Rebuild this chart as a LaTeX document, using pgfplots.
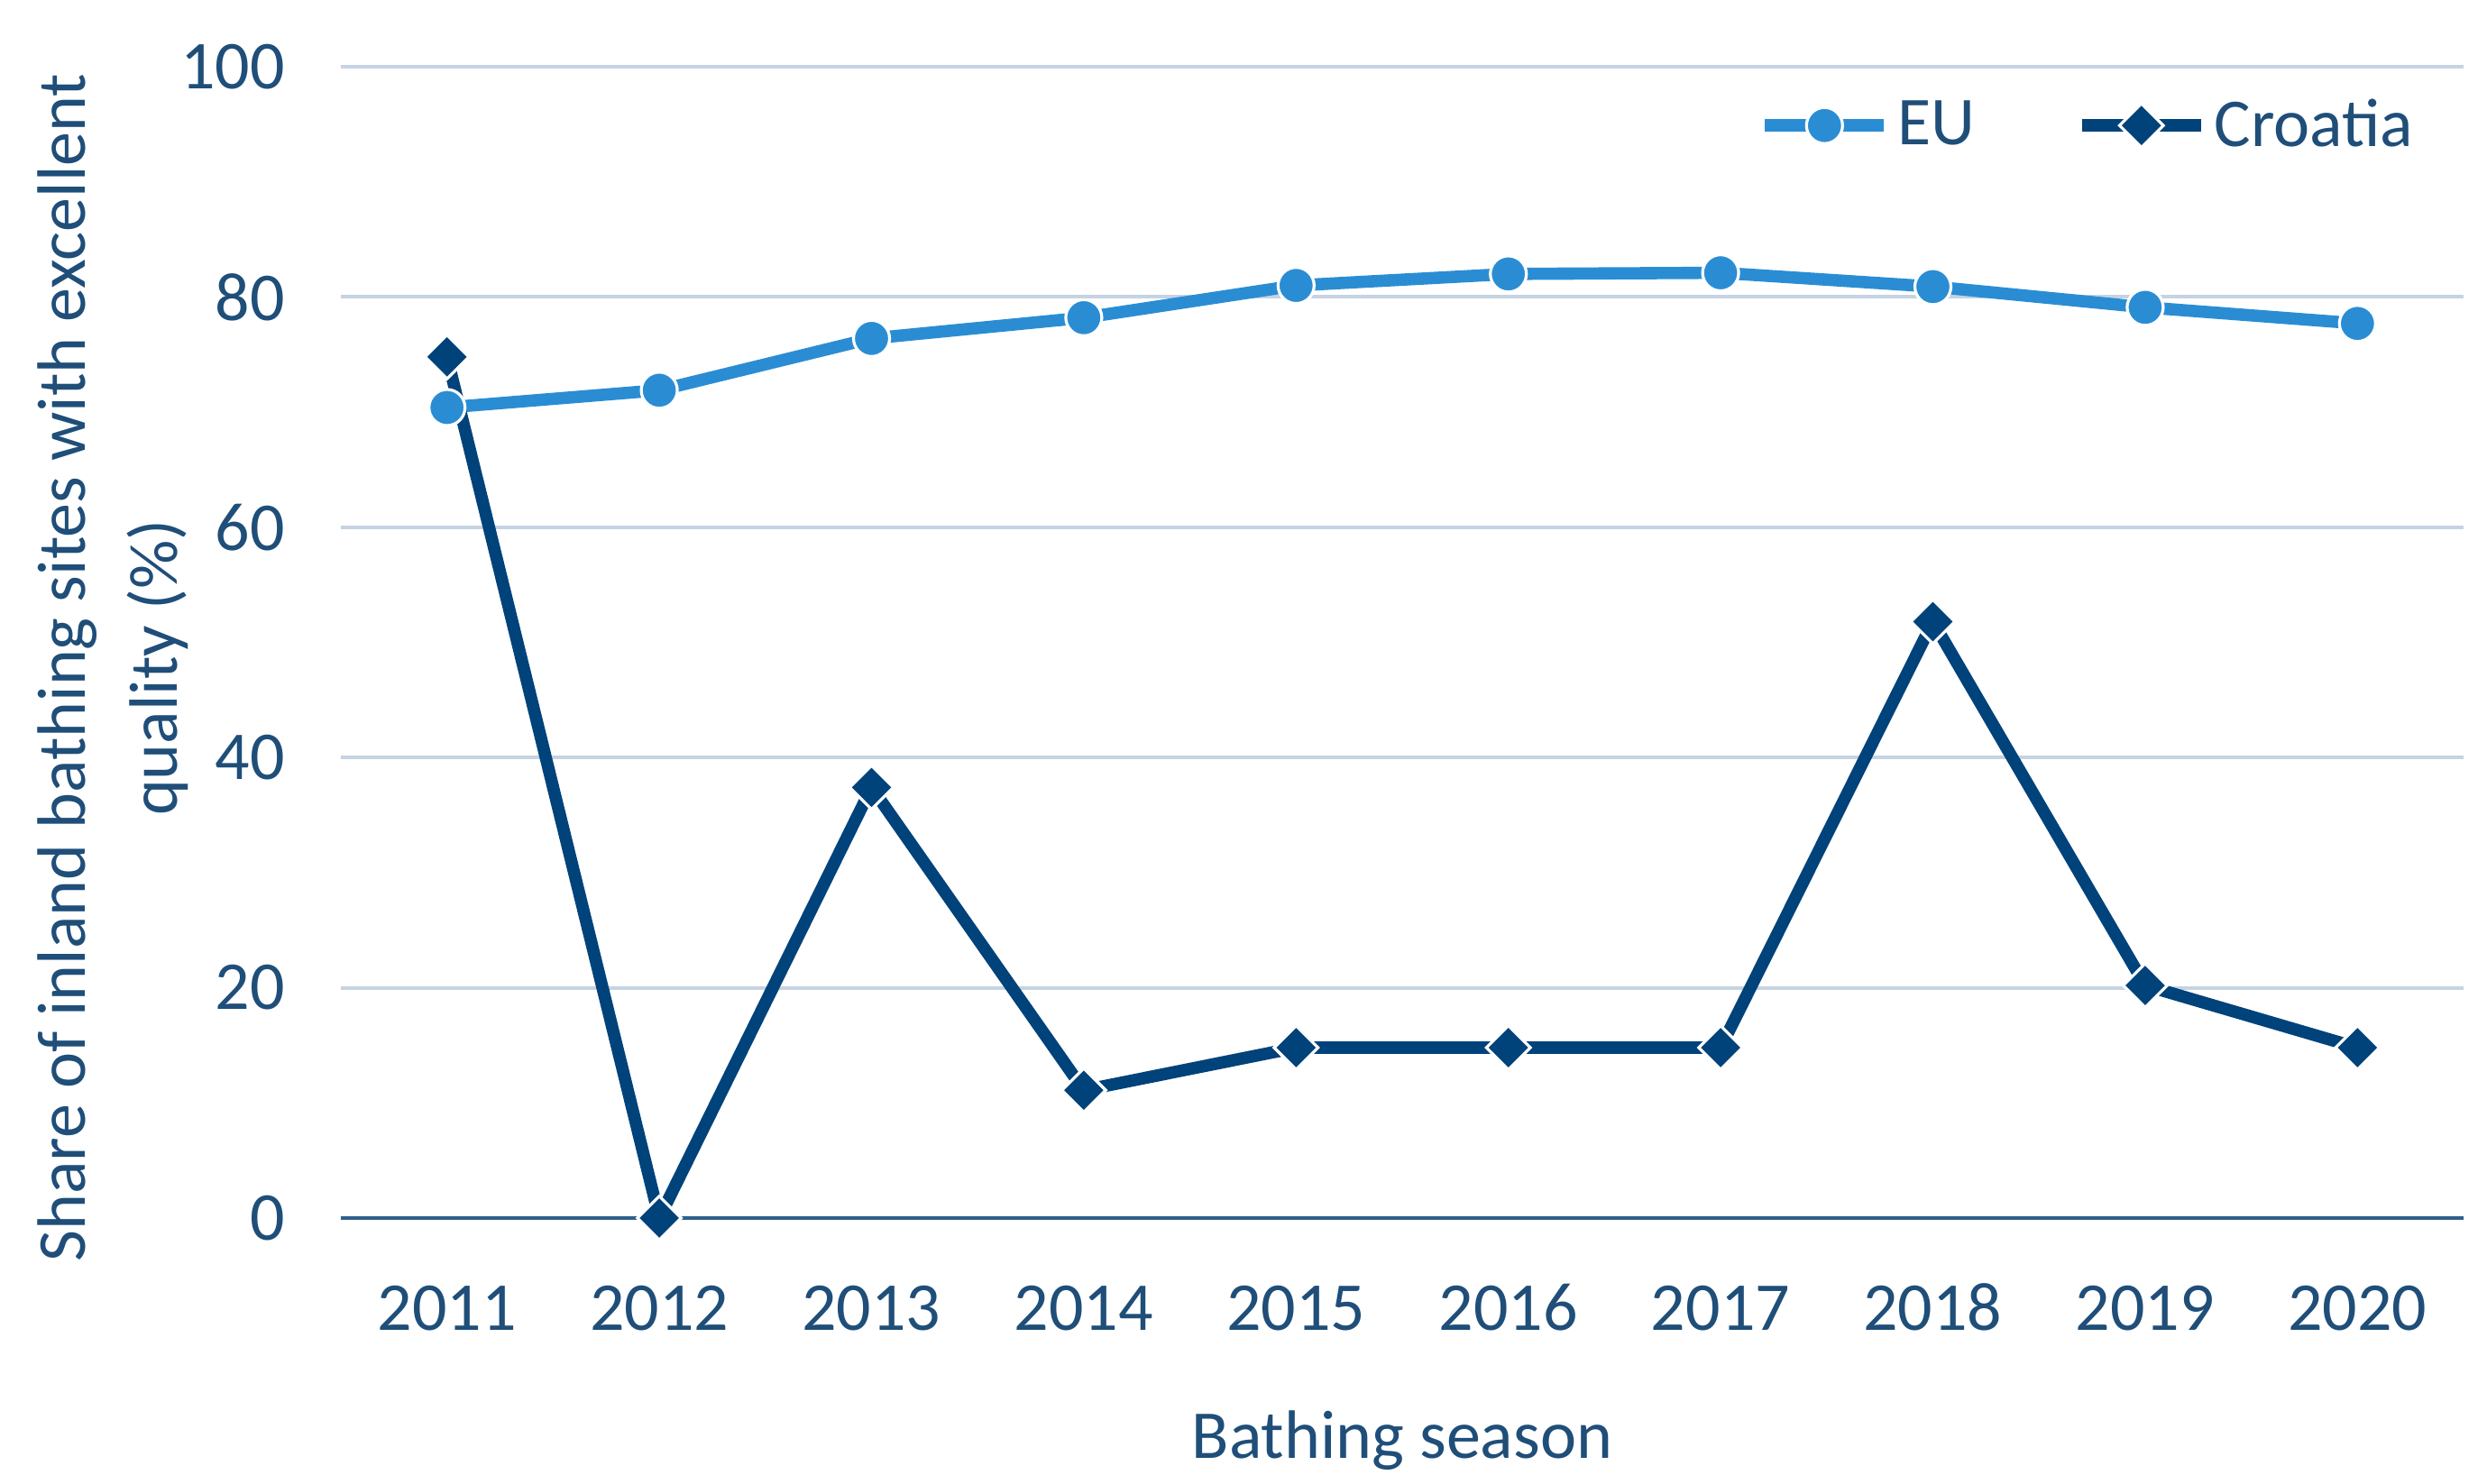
\documentclass[border=0pt]{standalone}
\usepackage{fontspec}
\setmainfont{Carlito}
\usepackage{pgfplots}
\pgfplotsset{compat=1.18}
\definecolor{eu}{HTML}{2A8DD4}
\definecolor{hr}{HTML}{00427A}
\definecolor{txt}{HTML}{1F4E79}
\definecolor{grd}{HTML}{C5D3E3}
\definecolor{zero}{HTML}{2E5F8E}
\begin{document}
\begin{tikzpicture}
\begin{axis}[
  scale only axis,
  width=588.5pt, height=319.25pt,
  xmin=2010.5, xmax=2020.5,
  ymin=0, ymax=100,
  xtick={2011,...,2020},
  ytick={0,20,...,100},
  /pgf/number format/set thousands separator={},
  /pgf/number format/assume math mode=true,
  axis lines*=left,
  y axis line style={draw=none},
  x axis line style={draw=zero, line width=1.2pt},
  major tick length=0pt,
  ymajorgrids,
  grid style={grd, line width=1pt},
  font=\fontsize{19}{23}\selectfont,
  tick label style={txt, font=\fontsize{19}{23}\selectfont},
  yticklabel style={xshift=-12pt},
  xticklabel style={yshift=-15pt, text height=12.5pt, text depth=0pt},
  xlabel={Bathing season},
  xlabel style={txt, at={(axis description cs:0.5,0)}, anchor=north, yshift=-50pt},
  ylabel={Share of inland bathing sites with excellent\\quality (\%)},
  ylabel style={txt, align=center, font=\fontsize{19}{25.5}\selectfont, at={(axis description cs:-0.1075,0.478)}, anchor=center},
  legend columns=2,
  legend style={draw=none, fill=none, at={(axis description cs:0.985,0.985)}, anchor=north east, font=\fontsize{19}{23}\selectfont, text=txt, /tikz/every even column/.append style={column sep=26pt}},
  legend image code/.code={\draw[mark repeat=2,mark phase=2,#1] plot coordinates {(0pt,0pt) (16.5pt,0pt) (33pt,0pt)};},
]
\addplot[eu, line width=3.4pt, mark=*, mark size=5pt, mark options={fill=eu, draw=white, line width=0.8pt}]
coordinates {(2011,70.4) (2012,71.9) (2013,76.4) (2014,78.2) (2015,81.0) (2016,82.0) (2017,82.1) (2018,80.9) (2019,79.1) (2020,77.7)};
\addlegendentry{EU}
\addplot[hr, line width=3.4pt, mark=square*, mark size=4.3pt, mark options={rotate=45, fill=hr, draw=white, line width=0.8pt}]
coordinates {(2011,74.8) (2012,0) (2013,37.4) (2014,11.1) (2015,14.8) (2016,14.8) (2017,14.8) (2018,51.8) (2019,20.2) (2020,14.8)};
\addlegendentry{Croatia}
\end{axis}
\path (current axis.south west) ++(-94.5pt,-73.75pt) rectangle ++(689.5pt,411.5pt);
\end{tikzpicture}
\end{document}
